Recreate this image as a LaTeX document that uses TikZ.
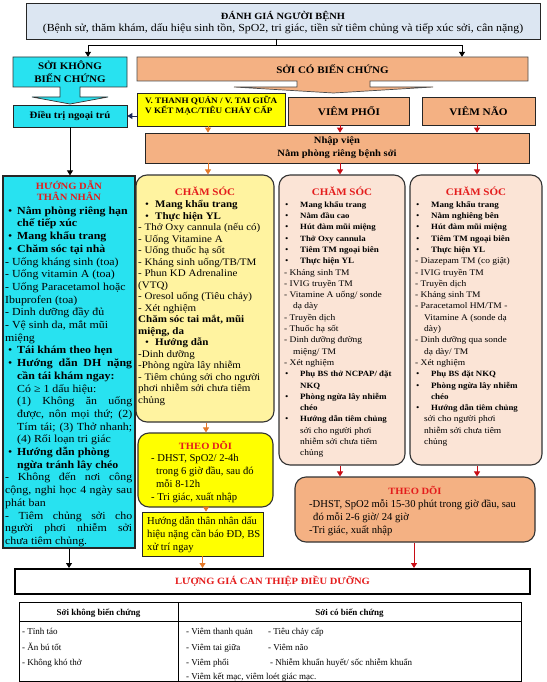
\documentclass[tikz,border=0pt]{standalone}
\usepackage{fontspec}
\setmainfont{Liberation Serif}
\newfontfamily\ws{Liberation Serif}[FakeStretch=1.1]
\usetikzlibrary{arrows.meta}
\definecolor{topblue}{RGB}{220,230,242}
\definecolor{cyanbox}{RGB}{40,226,240}
\definecolor{salmon}{RGB}{244,177,131}
\definecolor{ylw}{RGB}{255,255,0}
\definecolor{paleylw}{RGB}{255,243,160}
\definecolor{palepink}{RGB}{251,228,214}
\definecolor{redtxt}{RGB}{228,28,28}
\definecolor{orarrow}{RGB}{228,120,40}
\definecolor{rdarrow}{RGB}{200,12,20}
\definecolor{nvarrow}{RGB}{25,40,90}
\newcommand{\fl}{\rule{0pt}{10pt}}
\newcommand{\Bu}[2]{\hspace*{#1}\makebox[#2][l]{•}}
\newcommand{\In}[1]{\hspace*{#1}}
\newcommand{\Js}[2]{\makebox[#1][s]{#2}}
\newcommand{\cyf}{\ws\fontsize{10.8}{12.7}\selectfont}
\newcommand{\ylf}{\ws\fontsize{10}{11.5}\selectfont}
\newcommand{\pkf}{\ws\fontsize{8.6}{11.3}\selectfont}
\newcommand{\pks}[1]{{\bfseries\fontsize{8.0}{11.3}\selectfont #1}}
\newcommand{\pkb}[1]{{\bfseries\fontsize{8.2}{11.3}\selectfont #1}}
\newcommand{\tdf}{\fontsize{10.6}{13}\selectfont}
\begin{document}
\begin{tikzpicture}[x=1pt,y=-1pt,
  bx/.style={draw=black!85, line width=0.7pt, inner sep=0pt},
  rbx/.style={draw=black!80, line width=1.1pt, rounded corners=11pt, inner sep=0pt},
  ttl/.style={inner sep=0pt, anchor=base, text=redtxt, font=\ws\fontsize{9.6}{11}\selectfont\bfseries},
  txt/.style={inner sep=0pt, anchor=north west, align=left},
  lbl/.style={inner sep=0pt, anchor=base},
  hdr/.style={inner sep=0pt, align=center, font=\ws\fontsize{10}{13}\selectfont\bfseries},
  arr/.style={-{Triangle[width=6pt,length=5pt]}, line width=0.9pt},
]
\useasboundingbox (0,0) rectangle (546,682);
\fill[white] (0,0) rectangle (546,682);

% helper x coordinates
\coordinate (c88) at (88,0);
\coordinate (c462) at (462,0);
\coordinate (c208) at (208,0);
\coordinate (c206) at (206,0);
\coordinate (c340) at (340,0);
\coordinate (c477) at (477,0);
\coordinate (c414) at (414,0);
\coordinate (tj) at (276,45);

% ---------- top ----------
\node[bx, fill=topblue, minimum width=514pt, minimum height=36pt] (top) at (283,21) {};
\node[lbl, font=\ws\fontsize{9.5}{11}\selectfont\bfseries] (toptitle) at (283,19.5) {ĐÁNH GIÁ NGƯỜI BỆNH};
\node[lbl, font=\ws\fontsize{10.8}{12}\selectfont] (topsub) at (283,31.5) {(Bệnh sử, thăm khám, dấu hiệu sinh tồn, SpO2, tri giác, tiền sử tiêm chủng và tiếp xúc sởi, cân nặng)};

% ---------- callouts ----------
\draw[fill=cyanbox, draw=black!80, line width=0.7pt]
  (13,57) -- (127,57) -- (127,87) -- (80,87) -- (80,97) -- (108,97) -- (70,104)
  -- (32,97) -- (60,97) -- (60,87) -- (13,87) -- cycle;
\node[hdr, minimum width=114pt, minimum height=30pt] (sk) at (70,72) {SỞI KHÔNG\\BIẾN CHỨNG};

\draw[fill=salmon, draw=black!70, line width=0.7pt]
  (137,57) -- (528,57) -- (528,81) -- (370,81) -- (370,87) -- (433,87) -- (333.5,93)
  -- (234,87) -- (297,87) -- (297,81) -- (137,81) -- cycle;
\node[hdr, minimum width=391pt, minimum height=24pt] (sc) at (332.5,69) {SỞI CÓ BIẾN CHỨNG};

\draw[line width=0.9pt] (top.south -| tj) -- (tj);
\draw[arr] (tj) -| (sk.north -| c88);
\draw[arr] (tj) -| (sc.north -| c462);

% ---------- second row ----------
\node[bx, fill=cyanbox, minimum width=114pt, minimum height=22pt, font=\ws\fontsize{9.8}{12}\selectfont\bfseries] (dt) at (70,116) {Điều trị ngoại trú};
\node[bx, fill=ylw, minimum width=148pt, minimum height=33pt] (vtq) at (211,109.5) {};
\node[txt, font=\ws\fontsize{8.3}{10}\selectfont\bfseries] (vtqtext) at (145,96) {V. THANH QUẢN / V. TAI GIỮA\\V KẾT MẠC/TIÊU CHẢY CẤP};
\node[bx, fill=salmon, minimum width=121pt, minimum height=28pt, font=\ws\fontsize{10.2}{12}\selectfont\bfseries] (vp) at (349,111) {VIÊM PHỔI};
\node[bx, fill=salmon, minimum width=113pt, minimum height=28pt, font=\ws\fontsize{10.2}{12}\selectfont\bfseries] (vn) at (478.5,111) {VIÊM NÃO};
\node[bx, fill=salmon, minimum width=384pt, minimum height=30pt, align=center, font=\ws\fontsize{9.6}{13}\selectfont\bfseries] (nv) at (337,148) {Nhập viện\\Nằm phòng riêng bệnh sởi};

\draw[arr, nvarrow] (dt.east -| vtq.west) -- (dt.east);
\draw[arr, orarrow] (vtq.south -| c208) -- (nv.north -| c208);
\draw[arr, rdarrow] (vp.south -| c340) -- (nv.north -| c340);
\draw[arr, rdarrow] (vn.south -| c477) -- (nv.north -| c477);

% ---------- left cyan column ----------
\node[bx, fill=cyanbox, line width=1.2pt, minimum width=132pt, minimum height=372pt] (hd) at (69,362) {};
\node[ttl] (hdt1) at (69,189) {HƯỚNG DẪN};
\node[ttl] (hdt2) at (69,200) {THÂN NHÂN};
\node[txt, font=\cyf] (hdtext) at (5,204) {\fl\Bu{3pt}{9pt}\textbf{Nằm phòng riêng hạn}\\
\In{12pt}\textbf{chế tiếp xúc}\\
\Bu{3pt}{9pt}\textbf{Mang khẩu trang}\\
\Bu{3pt}{9pt}\textbf{Chăm sóc tại nhà}\\
- Uống kháng sinh (toa)\\
- Uống vitamin A (toa)\\
- Uống Paracetamol hoặc\\
Ibuprofen (toa)\\
- Dinh dưỡng đầy đủ\\
- Vệ sinh da, mắt mũi\\
miệng\\
\Bu{3pt}{9pt}\textbf{Tái khám theo hẹn}\\
\Bu{3pt}{9pt}\Js{115pt}{\textbf{Hướng dẫn DH nặng}}\\
\In{12pt}\textbf{cần tái khám ngay:}\\
\In{12pt}Có ≥ 1 dấu hiệu:\\
\In{12pt}\Js{115pt}{(1) Không ăn uống}\\
\In{12pt}\Js{115pt}{được, nôn mọi thứ; (2)}\\
\In{12pt}\Js{115pt}{Tím tái; (3) Thở nhanh;}\\
\In{12pt}(4) Rối loạn tri giác\\
\Bu{3pt}{9pt}\textbf{Hướng dẫn phòng}\\
\In{12pt}\textbf{ngừa tránh lây chéo}\\
\Js{127pt}{- Không đến nơi công}\\
\Js{127pt}{cộng, nghỉ học 4 ngày sau}\\
phát ban\\
\Js{127pt}{- Tiêm chủng sởi cho}\\
\Js{127pt}{người phơi nhiễm sởi}\\
chưa tiêm chủng.};

\draw[arr] (dt.south) -- (dt.south |- hd.north);

% ---------- yellow column ----------
\node[rbx, fill=paleylw, minimum width=138pt, minimum height=247pt] (ycs) at (205,298.5) {};
\node[ttl, font=\ws\fontsize{10}{11}\selectfont\bfseries] (ycst) at (205,195) {CHĂM SÓC};
\node[txt, font=\ylf] (ycstext) at (138,197.5) {\fl\Bu{7pt}{10pt}\textbf{Mang khẩu trang}\\
\Bu{7pt}{10pt}\textbf{Thực hiện YL}\\
- Thở Oxy cannula (nếu có)\\
- Uống Vitamine A\\
- Uống thuốc hạ sốt\\
- Kháng sinh uống/TB/TM\\
- Phun KD Adrenaline\\
(VTQ)\\
- Oresol uống (Tiêu chảy)\\
- Xét nghiệm\\
\textbf{Chăm sóc tai mắt, mũi}\\
\textbf{miệng, da}\\
\Bu{7pt}{10pt}\textbf{Hướng dẫn}\\
-Dinh dưỡng\\
-Phòng ngừa lây nhiễm\\
- Tiêm chủng sởi cho người\\
phơi nhiễm sởi chưa tiêm\\
chủng};

\node[rbx, fill=ylw, minimum width=135pt, minimum height=74pt] (td1) at (205.5,470) {};
\node[ttl] (td1t) at (205.5,449) {THEO DÕI};
\node[txt, font=\tdf] (td1text) at (151,451.5) {\fl- DHST, SpO2/ 2-4h\\
\In{5pt}trong 6 giờ đầu, sau đó\\
\In{5pt}mỗi 8-12h\\
- Tri giác, xuất nhập};

\node[bx, fill=ylw, minimum width=121pt, minimum height=44pt] (gd) at (202.5,534) {};
\node[txt, font=\tdf] (gdtext) at (147,514.5) {\fl Hướng dẫn thân nhân dấu\\
hiệu nặng cần báo ĐD, BS\\
xử trí ngay};

\draw[arr, orarrow] (nv.south -| c208) -- (ycs.north -| c208);
\draw[arr, orarrow] (ycs.south -| c206) -- (td1.north -| c206);
\draw[arr, orarrow] (td1.south -| c206) -- (gd.north -| c206);

% ---------- pink columns ----------
\node[rbx, fill=palepink, minimum width=126pt, minimum height=290pt] (pc1) at (342,320) {};
\node[ttl, font=\ws\fontsize{10}{11}\selectfont\bfseries] (pc1t) at (342,195) {CHĂM SÓC};
\node[txt, font=\pkf] (pc1text) at (284,197) {\fl\Bu{1pt}{15pt}\pks{Mang khẩu trang}\\
\Bu{1pt}{15pt}\pks{Nằm đầu cao}\\
\Bu{1pt}{15pt}\pks{Hút đàm mũi miệng}\\
\Bu{1pt}{15pt}\pks{Thở Oxy cannula}\\
\Bu{1pt}{15pt}\pkb{Tiêm TM ngoại biên}\\
\Bu{1pt}{15pt}\pkb{Thực hiện YL}\\
- Kháng sinh TM\\
- IVIG truyền TM\\
- Vitamine A uống/ sonde\\
\In{9pt}dạ dày\\
- Truyền dịch\\
- Thuốc hạ sốt\\
- Dinh dưỡng đường\\
\In{9pt}miệng/ TM\\
- Xét nghiệm\\
\Bu{1pt}{15pt}\pks{Phụ BS thở NCPAP/ đặt}\\
\In{16pt}\pks{NKQ}\\
\Bu{1pt}{15pt}\pkb{Phòng ngừa lây nhiễm}\\
\In{16pt}\pkb{chéo}\\
\Bu{1pt}{15pt}\pks{Hướng dẫn tiêm chủng}\\
\In{16pt}sởi cho người phơi\\
\In{16pt}nhiễm sởi chưa tiêm\\
\In{16pt}chủng};

\node[rbx, fill=palepink, minimum width=132pt, minimum height=290pt] (pc2) at (476,320) {};
\node[ttl, font=\ws\fontsize{10}{11}\selectfont\bfseries] (pc2t) at (476,195) {CHĂM SÓC};
\node[txt, font=\pkf] (pc2text) at (415,197) {\fl\Bu{1pt}{15pt}\pkb{Mang khẩu trang}\\
\Bu{1pt}{15pt}\pkb{Nằm nghiêng bên}\\
\Bu{1pt}{15pt}\pks{Hút đàm mũi miệng}\\
\Bu{1pt}{15pt}\pkb{Tiêm TM ngoại biên}\\
\Bu{1pt}{15pt}\pkb{Thực hiện YL}\\
- Diazepam TM (co giật)\\
- IVIG truyền TM\\
- Truyền dịch\\
- Kháng sinh TM\\
- Paracetamol HM/TM -\\
\In{9pt}Vitamine A (sonde dạ\\
\In{9pt}dày)\\
- Dinh dưỡng qua sonde\\
\In{9pt}dạ dày/ TM\\
- Xét nghiệm\\
\Bu{1pt}{15pt}\pks{Phụ BS đặt NKQ}\\
\Bu{1pt}{15pt}\pkb{Phòng ngừa lây nhiễm}\\
\In{16pt}\pkb{chéo}\\
\Bu{1pt}{15pt}\pks{Hướng dẫn tiêm chủng}\\
\In{9pt}sởi cho người phơi\\
\In{9pt}nhiễm sởi chưa tiêm\\
\In{9pt}chủng};

\node[rbx, fill=salmon, minimum width=240pt, minimum height=65pt] (td2) at (415,509.5) {};
\node[ttl] (td2t) at (415,494) {THEO DÕI};
\node[txt, font=\tdf] (td2text) at (309,497) {\fl-DHST, SpO2 mỗi 15-30 phút trong giờ đầu, sau\\
\In{4pt}đó mỗi 2-6 giờ/ 24 giờ\\
-Tri giác, xuất nhập};

\draw[arr, rdarrow] (nv.south -| c340) -- (pc1.north -| c340);
\draw[arr, rdarrow] (nv.south -| c477) -- (pc2.north -| c477);
\draw[arr, rdarrow] (pc1.south -| c340) -- (td2.north -| c340);
\draw[arr, rdarrow] (pc2.south -| c477) -- (td2.north -| c477);

% ---------- evaluation ----------
\node[draw=black, line width=2pt, inner sep=0pt, minimum width=515pt, minimum height=25pt, text=redtxt, font=\ws\fontsize{9.6}{11}\selectfont\bfseries] (lg) at (272.5,581.5) {LƯỢNG GIÁ CAN THIỆP ĐIỀU DƯỠNG};

\draw[arr] (hd.south) -- (hd.south |- lg.north);
\draw[arr, orarrow] (gd.south) -- (gd.south |- lg.north);
\draw[arr, rdarrow] (td2.south -| c414) -- (lg.north -| c414);

% ---------- table ----------
\node[draw=black, line width=0.8pt, inner sep=0pt, minimum width=502pt, minimum height=79pt, anchor=north west] (tbl) at (19,602) {};
\draw[line width=0.7pt] (tbl.west |- 0,621) -- (tbl.east |- 0,621);
\draw[line width=0.7pt] (178,602) -- (178,681);
\node[lbl, font=\fontsize{9}{10}\selectfont\bfseries] (h1) at (98.5,615) {Sởi không biến chứng};
\node[lbl, font=\fontsize{9}{10}\selectfont\bfseries] (h2) at (349.5,615) {Sởi có biến chứng};
\begin{scope}[every node/.style={inner sep=0pt, anchor=base west, font=\fontsize{9}{10}\selectfont}]
\node (r11) at (22,634) {- Tỉnh táo};
\node (r12) at (22,650) {- Ăn bú tốt};
\node (r13) at (22,665.5) {- Không khó thở};
\node (r21) at (186,634) {- Viêm thanh quản};
\node (r22) at (186,650) {- Viêm tai giữa};
\node (r23) at (186,665.5) {- Viêm phổi};
\node (r24) at (186,679.5) {- Viêm kết mạc, viêm loét giác mạc.};
\node (r31) at (268,634) {- Tiêu chảy cấp};
\node (r32) at (268,650) {- Viêm não};
\node (r33) at (270,665.5) {- Nhiễm khuẩn huyết/ sốc nhiễm khuẩn};
\end{scope}
\end{tikzpicture}
\end{document}
